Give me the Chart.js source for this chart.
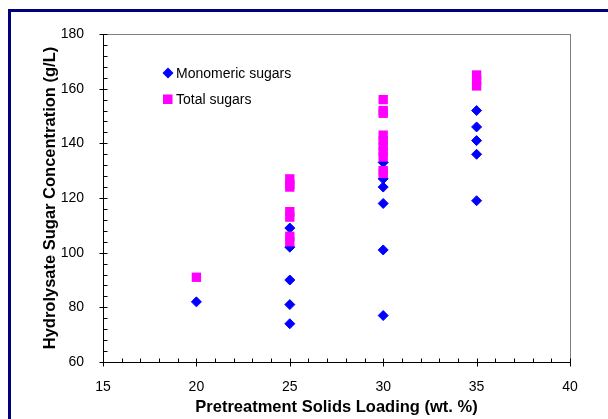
<!DOCTYPE html>
<html>
<head>
<meta charset="utf-8">
<script src="https://cdn.jsdelivr.net/npm/chart.js@4.4.0/dist/chart.umd.min.js"></script>
<style>
  html, body { margin: 0; padding: 0; background: #fff; }
  #wrap { position: relative; width: 608px; height: 419px; overflow: hidden; }
  #frame { position: absolute; left: 8px; top: 9px; width: 700px; height: 500px;
           border-left: 3px solid #00007f; border-top: 3px solid #00007f; }
  #wrap canvas { position: absolute; left: 0; top: 0; }
</style>
</head>
<body>
<div id="wrap">
  <div id="frame"></div>
  <canvas id="myChart" width="608" height="419"></canvas>
</div>
<script>
// solids loading (wt. %) and sugar concentration (g/L)
const monoLoading = [20, 25, 25, 25, 25, 25, 30, 30, 30, 30, 30, 30, 35, 35, 35, 35, 35];
const monoSugars  = [82, 74, 81, 90, 102, 109, 77, 101, 118, 124, 127, 133, 119, 136, 141, 146, 152];

const totalLoading = [20, 25, 25, 25, 25, 25, 25, 25, 30, 30, 30, 30, 30, 30, 30, 30, 30, 30, 35, 35, 35];
const totalSugars  = [91, 104, 106, 113, 115, 124, 125, 127, 129, 130, 135, 137, 139, 141, 143, 151, 152, 156, 161, 163, 165];

const seriesNames = ['Monomeric sugars', 'Total sugars'];
const xTicks = [15, 20, 25, 30, 35, 40];
const yTicks = [60, 80, 100, 120, 140, 160, 180];

const FONT = '"Liberation Sans", Arial, sans-serif';
const BLUE = '#0000ff';
const PINK = '#ff00ff';

let toPoints = (xs, ys) => xs.map((x, i) => ({ x: x, y: ys[i] }));

// plot frame, axis lines, major/minor tick marks and the in-plot legend
const axisFrame = {
    id: 'axisFrame',
    beforeDatasetsDraw(chart) {
        const { ctx, chartArea: a, scales: { x, y } } = chart;
        const L = Math.round(a.left) + 0.5;
        const B = Math.round(a.bottom) + 0.5;
        ctx.save();
        ctx.lineWidth = 1;
        ctx.strokeStyle = '#808080';
        ctx.strokeRect(L, Math.round(a.top) + 0.5, Math.round(a.right) - Math.round(a.left), Math.round(a.bottom) - Math.round(a.top));

        ctx.strokeStyle = '#000';
        ctx.beginPath();
        ctx.moveTo(L, a.top);
        ctx.lineTo(L, B);
        ctx.lineTo(a.right + 0.5, B);

        for (let v = 60; v <= 180; v += 4) {
            const py = Math.round(y.getPixelForValue(v)) + 0.5;
            if (v % 20 === 0) {
                ctx.moveTo(L - 4, py);
            } else {
                ctx.moveTo(L, py);
            }
            ctx.lineTo(L + 4, py);
        }
        for (let v = 15; v <= 40; v += 1) {
            const px = Math.round(x.getPixelForValue(v)) + 0.5;
            ctx.moveTo(px, B - 4);
            ctx.lineTo(px, v % 5 === 0 ? B + 4 : B);
        }
        ctx.stroke();
        ctx.restore();
    },
    afterDatasetsDraw(chart) {
        const { ctx, chartArea: a } = chart;
        const lx = a.left + 65;
        const ly = [a.top + 39, a.top + 65];
        ctx.save();
        ctx.fillStyle = BLUE;
        ctx.beginPath();
        ctx.moveTo(lx, ly[0] - 5.5);
        ctx.lineTo(lx + 5.5, ly[0]);
        ctx.lineTo(lx, ly[0] + 5.5);
        ctx.lineTo(lx - 5.5, ly[0]);
        ctx.closePath();
        ctx.fill();
        ctx.fillStyle = PINK;
        ctx.fillRect(lx - 5, ly[1] - 4.5, 9.5, 9.5);

        ctx.fillStyle = '#000';
        ctx.font = '14px ' + FONT;
        ctx.textBaseline = 'middle';
        ctx.fillText(seriesNames[0], lx + 8, ly[0] + 1);
        ctx.fillText(seriesNames[1], lx + 8, ly[1] + 1);
        ctx.restore();
    }
};

const dataset = {
    datasets: [{
        label: seriesNames[0],
        data: toPoints(monoLoading, monoSugars),
        pointStyle: 'rectRot',
        pointRadius: 5,
        pointHoverRadius: 5,
        backgroundColor: BLUE,
        borderColor: BLUE,
        borderWidth: 1,
        order: 2
    }, {
        label: seriesNames[1],
        data: toPoints(totalLoading, totalSugars),
        pointStyle: 'rect',
        pointRadius: 6.6,
        pointHoverRadius: 6.6,
        backgroundColor: PINK,
        borderColor: PINK,
        borderWidth: 0,
        order: 1
    }]
};

const config = {
    type: 'scatter',
    data: dataset,
    plugins: [axisFrame],
    options: {
        responsive: false,
        animation: false,
        events: [],
        layout: { padding: { top: 34, right: 38, left: 0, bottom: 0 } },
        plugins: {
            legend: { display: false },
            tooltip: { enabled: false }
        },
        scales: {
            x: {
                type: 'linear',
                min: 15,
                max: 40,
                afterFit: (s) => { s.height = 57; },
                afterBuildTicks: (s) => { s.ticks = xTicks.map(v => ({ value: v })); },
                grid: { display: false },
                border: { display: false },
                ticks: { color: '#000', padding: 9, font: { family: FONT, size: 14 }, maxRotation: 0 },
                title: {
                    display: true,
                    text: 'Pretreatment Solids Loading (wt. %)',
                    color: '#000',
                    font: { family: FONT, size: 16.5, weight: 'bold' },
                    padding: { top: 0, bottom: 2 }
                }
            },
            y: {
                type: 'linear',
                min: 60,
                max: 180,
                afterFit: (s) => { s.width = 103; },
                afterBuildTicks: (s) => { s.ticks = yTicks.map(v => ({ value: v })); },
                grid: { display: false },
                border: { display: false },
                ticks: { color: '#000', padding: 11, font: { family: FONT, size: 14 } },
                title: {
                    display: true,
                    text: 'Hydrolysate Sugar Concentration (g/L)',
                    color: '#000',
                    font: { family: FONT, size: 16.5, weight: 'bold' },
                    padding: { top: 41, bottom: 0 }
                }
            }
        }
    }
};

const chart = new Chart(document.getElementById('myChart'), config);
</script>
</body>
</html>
